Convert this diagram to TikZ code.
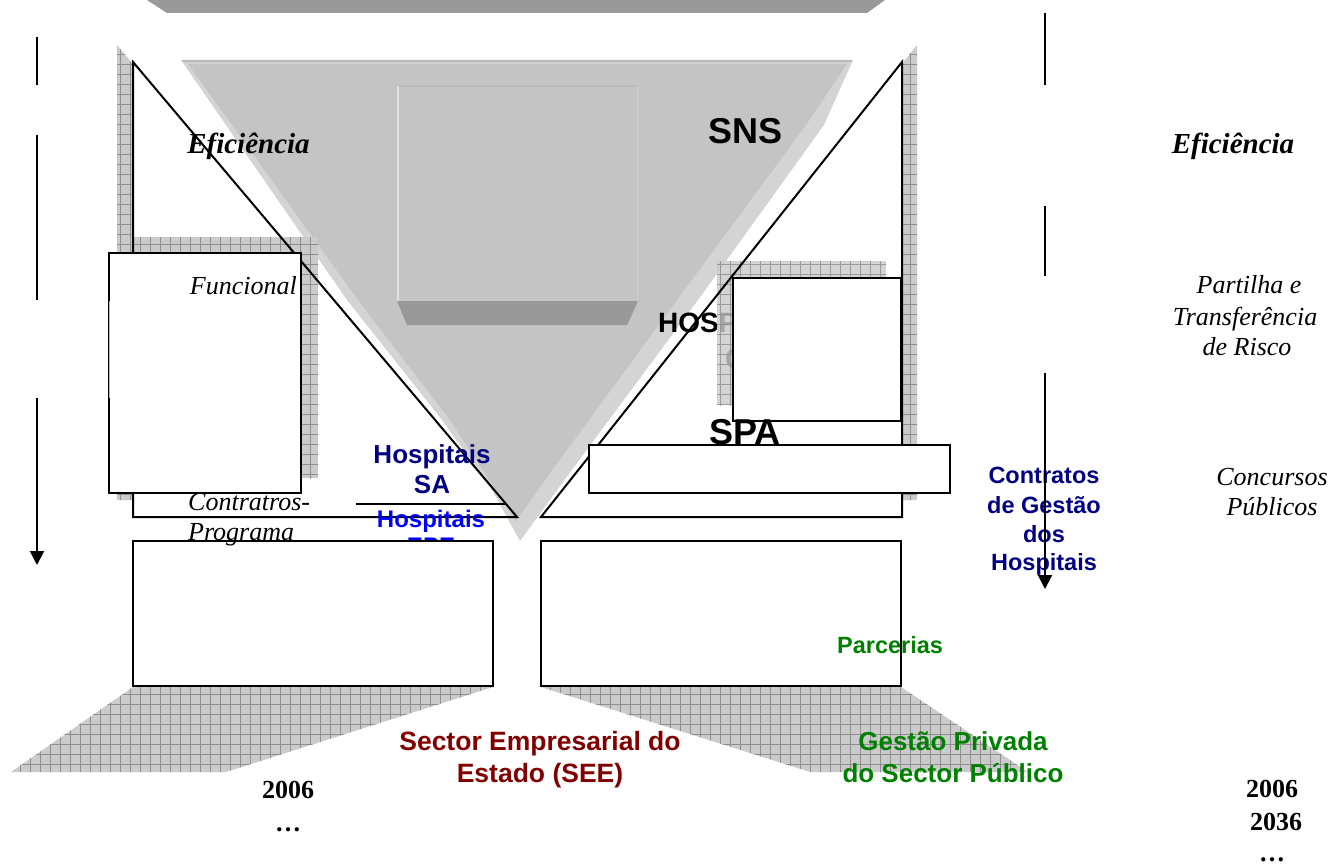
\documentclass[tikz,border=0pt]{standalone}
\usepackage{fontspec}
\setmainfont{Liberation Serif}
\newfontfamily\arialfont{Liberation Sans}
\usetikzlibrary{arrows.meta,patterns.meta}
\definecolor{band}{HTML}{999999}
\definecolor{snsl}{HTML}{D4D4D4}
\definecolor{snsd}{HTML}{C4C4C4}
\definecolor{snse}{HTML}{BABABA}
\definecolor{shbg}{HTML}{CBCBCB}
\definecolor{shln}{HTML}{8E8E8E}
\definecolor{navyT}{HTML}{000080}
\definecolor{blueT}{HTML}{0000FF}
\definecolor{greenT}{HTML}{008000}
\definecolor{redT}{HTML}{800000}
\tikzset{
  ol/.style={draw=black,line width=2pt},
  wfill/.style={fill=white},
  hatch/.style={preaction={fill=shbg},pattern={Hatch[angle=0,distance=10pt,line width=0.6pt]},pattern color=shln},
  txt/.style={inner sep=0pt,anchor=base},
  biF/.style={txt,font=\fontsize{29}{29}\selectfont\bfseries\itshape},
  itF/.style={txt,font=\fontsize{26}{26}\selectfont\itshape},
  arA/.style={txt,font=\arialfont\bfseries\fontsize{36}{36}\selectfont},
  arH/.style={txt,font=\arialfont\bfseries\fontsize{28}{28}\selectfont},
  arB/.style={txt,font=\arialfont\bfseries\fontsize{26}{26}\selectfont},
  arS/.style={txt,font=\arialfont\bfseries\fontsize{24}{24}\selectfont},
  arC/.style={txt,font=\arialfont\bfseries\fontsize{23.5}{23.5}\selectfont},
  arD/.style={txt,font=\arialfont\bfseries\fontsize{26.5}{26.5}\selectfont},
  yrF/.style={txt,font=\fontsize{26}{26}\selectfont\bfseries},
  axisline/.style={line width=2pt},
  tipend/.style={-{Triangle[width=14pt,length=14pt]}}
}
\begin{document}
\begin{tikzpicture}[x=1pt,y=-1pt]
\useasboundingbox (0,0) rectangle (1332,864);
% top band
\fill[band] (147,0)--(885,0)--(867,13)--(167,13)--cycle;
% triangle shadows
\path[hatch] (117,45)--(117,500)--(501,500)--cycle;
\path[hatch] (917,45)--(917,500)--(556,500)--cycle;
% triangle white fills
\fill[white] (133,62)--(133,517)--(517,517)--cycle;
\fill[white] (902,62)--(902,517)--(541,517)--cycle;
% SNS inverted triangle
\fill[snsl] (181,60)--(853,60)--(824,125)--(698,300)--(574,467)--(520,541)--(492,490)--(442,420)--(347,300)--cycle;
\fill[snsd] (188,64)--(847,64)--(806,125)--(677,300)--(558,462)--(516,521)--(450,420)--(358,300)--cycle;
\draw[snse,line width=1.5pt] (182,61)--(852,61);
% central square
\fill[snsd] (397,85) rectangle (638,301);
\draw[snse,line width=1.5pt] (397,86)--(638,86);
\draw[white!88!black,line width=1.5pt] (398,86)--(398,301);
\draw[white!82!black,line width=1pt] (637,86)--(637,301);
\fill[band] (397,301)--(638,301)--(627,325)--(407,325)--cycle;
% text partly hidden behind the right box
\node[arH,anchor=base west] (hosp) at (658,332) {HOSPITAIS};
\node[arH,anchor=base west] (hospc) at (725,368) {C};
% box shadows
\path[hatch] (118,237) rectangle (318,478);
\begin{scope}[opacity=0.82]
\path[hatch] (717,261) rectangle (886,405);
\end{scope}
% triangle outlines
\draw[ol] (133,62)--(133,517)--(517,517)--cycle;
\draw[ol] (902,62)--(902,517)--(541,517)--cycle;
% texts in triangles
\node[biF] (efl) at (248.5,153) {Eficiência};
\node[arA] (sns) at (745,143) {SNS};
% left functional box
\draw[ol,wfill] (109,253) rectangle (301,493);
\draw[white!70!black,line width=1pt] (109,301)--(109,398);
\node[itF,anchor=base east] (func) at (297,294) {Funcional};
% right box and bar
\draw[ol,wfill] (733,278) rectangle (901,421);
\node[arA] (spa) at (745,444) {SPA};
\draw[ol,wfill] (589,445) rectangle (950,493);
% Hospitais SA / EPE
\node[arB,text=navyT] (hsa1) at (432,463) {Hospitais};
\node[arB,text=navyT] (hsa2) at (432,493) {SA};
\coordinate (sal) at (356,504);
\coordinate (sar) at (506,504);
\draw[ol] (sal)--(sar);
\node[arS,text=blueT] (hepe1) at (431,527) {Hospitais};
\node[arS,text=blueT] (hepe2) at (431,554) {EPE};
\node[itF,anchor=base west] (cp1) at (188,510) {Contratros-};
% lower rectangles and their shadows
\path[hatch] (133,687)--(493,687)--(226,772)--(11,772)--cycle;
\path[hatch] (541,687)--(901,687)--(1028,772)--(810,772)--cycle;
\draw[ol,wfill] (133,541) rectangle (493,686);
\draw[ol,wfill] (541,541) rectangle (901,686);
\node[itF,anchor=base west] (cp2) at (188,540) {Programa};
\node[arC,text=greenT,anchor=base west] (parc) at (837,653) {Parcerias};
% right column texts
\node[biF] (efr) at (1233,153) {Eficiência};
\node[itF] (pt1) at (1249,293) {Partilha e};
\node[itF] (pt2) at (1245,325) {Transferência};
\node[itF] (pt3) at (1247,355) {de Risco};
\node[itF] (cc1) at (1272,485) {Concursos};
\node[itF] (cc2) at (1272,515) {Públicos};
\node[arC,text=navyT] (cg1) at (1044,483) {Contratos};
\node[arC,text=navyT] (cg2) at (1044,513) {de Gestão};
\node[arC,text=navyT] (cg3) at (1044,542) {dos};
\node[arC,text=navyT] (cg4) at (1044,570) {Hospitais};
% bottom labels
\node[arD,text=redT] (see1) at (540,750) {Sector Empresarial do};
\node[arD,text=redT] (see2) at (540,782) {Estado (SEE)};
\node[arB,text=greenT] (gp1) at (953,750) {Gestão Privada};
\node[arB,text=greenT] (gp2) at (953,782) {do Sector Público};
\node[yrF] (yl1) at (288,798) {2006};
\node[yrF] (yl2) at (288,831) {…};
\node[yrF] (yr1) at (1272,797) {2006};
\node[yrF] (yr2) at (1276,830) {2036};
\node[yrF] (yr3) at (1272,861) {…};
% axis arrows
\coordinate (la1) at (37,37);
\coordinate (la2) at (37,85);
\coordinate (la3) at (37,135);
\coordinate (la4) at (37,300);
\coordinate (la5) at (37,398);
\coordinate (la6) at (37,565);
\draw[axisline] (la1)--(la2);
\draw[axisline] (la3)--(la4);
\draw[axisline,tipend] (la5)--(la6);
\coordinate (ra1) at (1045,13);
\coordinate (ra2) at (1045,85);
\coordinate (ra3) at (1045,206);
\coordinate (ra4) at (1045,276);
\coordinate (ra5) at (1045,373);
\coordinate (ra6) at (1045,589);
\draw[axisline] (ra1)--(ra2);
\draw[axisline] (ra3)--(ra4);
\draw[axisline,tipend] (ra5)--(ra6);
\end{tikzpicture}
\end{document}
